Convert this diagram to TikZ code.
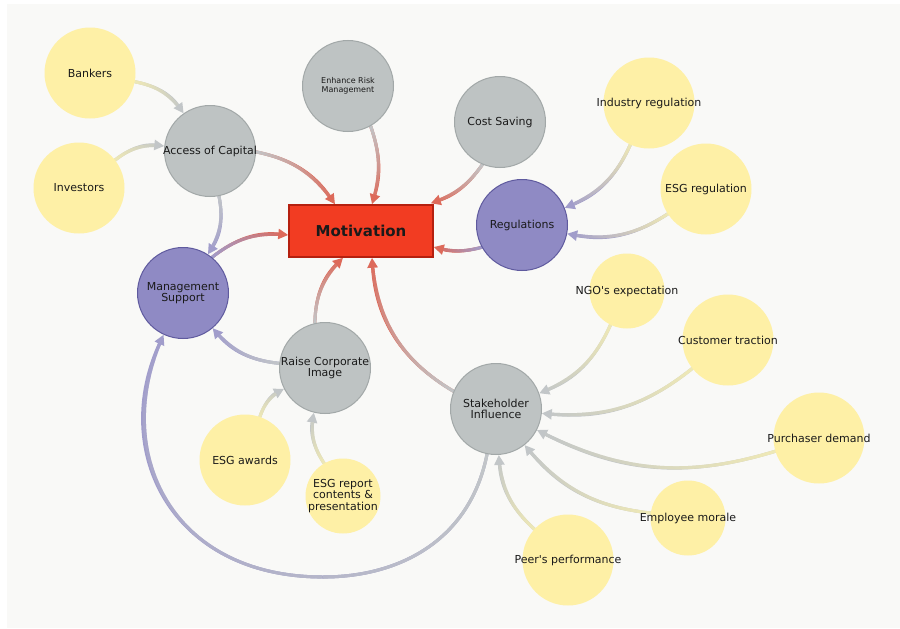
\documentclass[tikz,border=0pt]{standalone}
\usepackage{fontspec}
\setmainfont{DejaVu Sans}
\newfontfamily\lblfont{DejaVu Sans}
\usetikzlibrary{arrows.meta,decorations.markings,shapes.geometric}
\pgfdeclarelayer{bglayer}
\pgfdeclarelayer{edgelayer}
\pgfsetlayers{bglayer,edgelayer,main}
\definecolor{bgc}{HTML}{F9F9F7}
\definecolor{yfill}{HTML}{FEF0A6}
\definecolor{gfill}{HTML}{BEC3C3}
\definecolor{gdraw}{HTML}{A2A8A8}
\definecolor{pfill}{HTML}{8F8AC4}
\definecolor{pdraw}{HTML}{5F5A9E}
\definecolor{mfill}{HTML}{F23C22}
\definecolor{mdraw}{HTML}{B5200F}
\definecolor{txt}{HTML}{1A1A1A}
\definecolor{yE}{HTML}{EFE9B6}
\definecolor{gE}{HTML}{C2C6C8}
\definecolor{pE}{HTML}{A19DCB}
\definecolor{rE}{HTML}{DD6A5A}
\tikzset{
  base/.style={circle, inner sep=0pt, minimum size=91pt},
  ynode/.style={base, fill=yfill},
  ysmall/.style={ynode, minimum size=75pt},
  gnode/.style={base, fill=gfill, draw=gdraw, line width=1pt},
  pnode/.style={base, fill=pfill, draw=pdraw, line width=1pt},
  mnode/.style={rectangle, fill=mfill, draw=mdraw, line width=1.5pt,
    minimum width=144pt, minimum height=52pt, text=txt,
    font=\lblfont\fontsize{15}{18}\selectfont\bfseries},
  lab/.style={text=txt, align=center, inner sep=0pt,
    font=\lblfont\fontsize{11}{11.5}\selectfont},
  labs/.style={lab, font=\lblfont\fontsize{8}{8.5}\selectfont},
  gl/.style 2 args={line width=3pt, draw=#2,
    -{Triangle[length=10pt,width=10pt]},
    postaction={decorate, decoration={markings,
      mark=between positions 0 and -10pt step 1pt with {
        \pgfmathsetmacro\gpct{\pgfkeysvalueof{/pgf/decoration/mark info/distance from start}/\pgfdecoratedpathlength*100}
        \fill[#2!\gpct!#1] (-0.75pt,-1.55pt) rectangle (0.75pt,1.55pt);
      }}}}
}
\begin{document}
\begin{tikzpicture}[x=1pt,y=1pt]
\useasboundingbox (0,0) rectangle (900,-629);
\begin{pgfonlayer}{bglayer}
\fill[white] (0,0) rectangle (900,-629);
\fill[bgc] (7,-4) rectangle (900,-628);
\end{pgfonlayer}
% nodes
\node[ynode, label={[lab]center:Bankers}] (bank) at (90,-73) {};
\node[ynode, label={[lab]center:Investors}] (inv) at (79,-188) {};
\node[gnode, label={[lab]center:Access of Capital}] (acc) at (210,-151) {};
\node[gnode, label={[labs]center:Enhance Risk\\Management}] (erm) at (348,-86) {};
\node[mnode] (mot) at (361,-231) {Motivation};
\node[pnode, label={[lab]center:Management\\Support}] (mgmt) at (183,-293) {};
\node[gnode, label={[lab]center:Cost Saving}] (cost) at (500,-122) {};
\node[pnode, label={[lab]center:Regulations}] (reg) at (522,-225) {};
\node[ynode, label={[lab]center:Industry regulation}] (ind) at (649,-103) {};
\node[ynode, label={[lab]center:ESG regulation}] (esgr) at (706,-189) {};
\node[ysmall, label={[lab]center:NGO's expectation}] (ngo) at (627,-291) {};
\node[ynode, label={[lab]center:Customer traction}] (cust) at (728,-340) {};
\node[ynode, label={[lab]center:Purchaser demand}] (pur) at (819,-438) {};
\node[ysmall, label={[lab]center:Employee morale}] (emp) at (688,-518) {};
\node[ynode, label={[lab]center:Peer's performance}] (peer) at (568,-560) {};
\node[gnode, label={[lab]center:Stakeholder\\Influence}] (stk) at (496,-409) {};
\node[gnode, label={[lab]center:Raise Corporate\\Image}] (rci) at (325,-368) {};
\node[ynode, label={[lab]center:ESG awards}] (awd) at (245,-460) {};
\node[ysmall, label={[lab]center:ESG report\\contents \&\\presentation}] (rep) at (343,-496) {};
% edges
\begin{pgfonlayer}{edgelayer}
\draw[gl={yE}{gE}] (bank) to[bend left=22] (acc);
\draw[gl={yE}{gE}] (inv) to[bend left=22] (acc);
\draw[gl={gE}{pE}] (acc) to[bend left=22] (mgmt);
\draw[gl={gE}{rE}] (acc) to[bend left=22] ([xshift=-26pt]mot.north);
\draw[gl={gE}{rE}] (erm) to[bend left=18] ([xshift=11pt]mot.north);
\draw[gl={gE}{rE}] (cost) to[bend left=18] ([xshift=-3pt,yshift=1pt]mot.north east);
\draw[gl={pE}{rE}] (reg) to[bend left=15] ([yshift=-16pt]mot.east);
\draw[gl={pE}{rE}] (mgmt) to[bend left=22] ([yshift=-4pt]mot.west);
\draw[gl={gE}{rE}] (rci) to[bend left=22] ([xshift=-18pt]mot.south);
\draw[gl={gE}{rE}] (stk) to[bend left=28] ([xshift=11pt]mot.south);
\draw[gl={yE}{pE}] (ind) to[bend left=22] (reg);
\draw[gl={yE}{pE}] (esgr) to[bend left=22] (reg);
\draw[gl={gE}{pE}] (rci) to[bend left=22] (mgmt);
\coordinate (arcb) at (323,-577);
\draw[gl={gE}{pE}] (stk) .. controls (470,-540) and (400,-577) .. (arcb)
  .. controls (170,-577) and (110,-450) .. (mgmt);
\draw[gl={yE}{gE}] (awd) to[bend left=22] (rci);
\draw[gl={yE}{gE}] (rep) to[bend left=22] (rci);
\draw[gl={yE}{gE}] (ngo) to[bend left=22] (stk);
\draw[gl={yE}{gE}] (cust) to[bend left=22] (stk);
\draw[gl={yE}{gE}] (pur) to[bend left=22] (stk);
\draw[gl={yE}{gE}] (emp) to[bend left=22] (stk);
\draw[gl={yE}{gE}] (peer) to[bend left=22] (stk);
\end{pgfonlayer}
\end{tikzpicture}
\end{document}
